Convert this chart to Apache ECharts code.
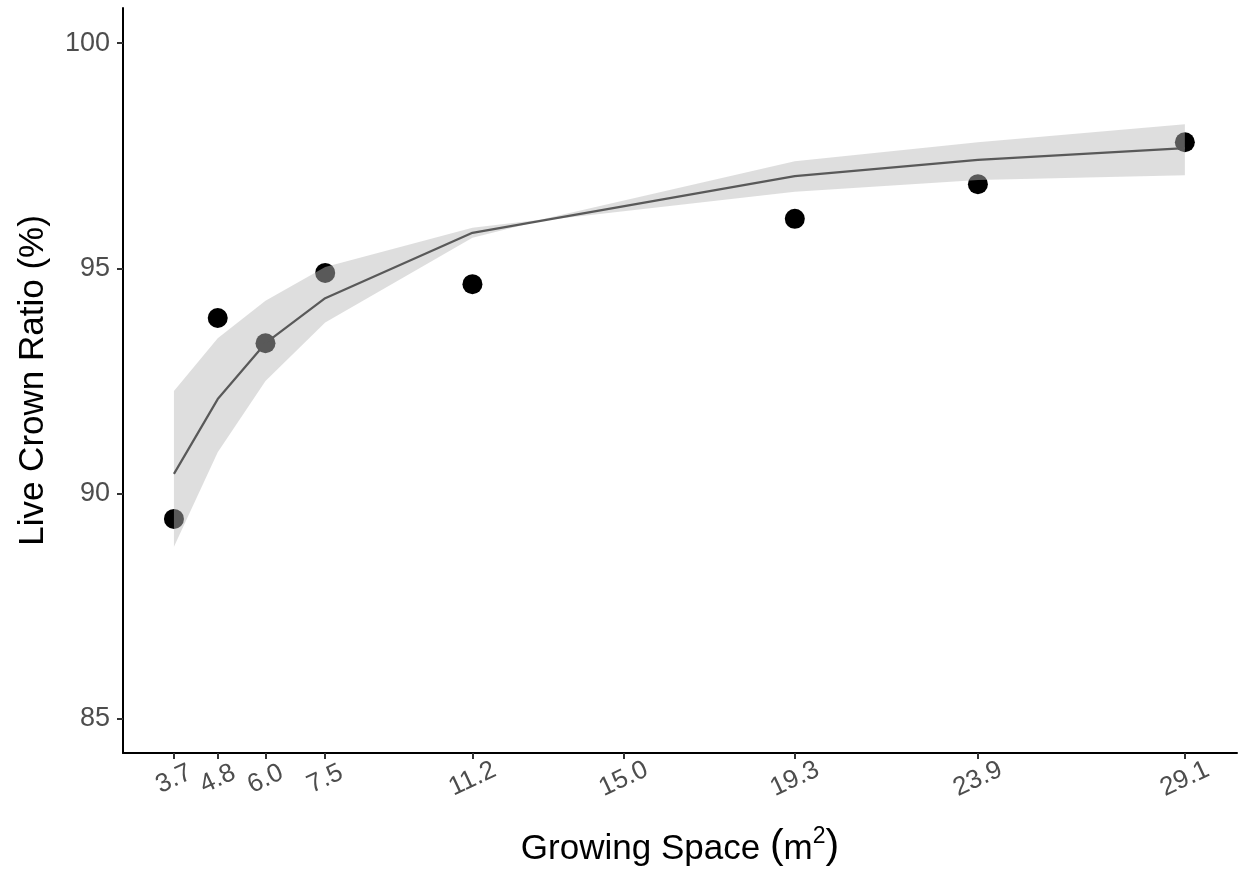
<!DOCTYPE html>
<html>
<head>
<meta charset="utf-8">
<script src="https://cdn.jsdelivr.net/npm/echarts@6/dist/echarts.min.js"></script>
<style>html,body{margin:0;padding:0;background:#fff;}#c{width:1238px;height:869px;}</style>
</head>
<body>
<div id="c"></div>
<script>
// Observed points
const xValues = [3.7, 4.8, 6.0, 7.5, 11.2, 19.3, 23.9, 29.1];
const crownRatio = [89.44, 93.90, 93.34, 94.90, 94.65, 96.10, 96.87, 97.80];
// Fitted line
const fitted = [90.44, 92.10, 93.34, 94.34, 95.79, 97.05, 97.41, 97.67];
// Confidence ribbon
const ribbonX = [3.7, 4.8, 6.0, 7.5, 11.2, 12.9, 19.3, 23.9, 29.1];
const ribbonUpper = [92.28, 93.45, 94.28, 95.03, 95.90, 96.08, 97.38, 97.80, 98.20];
const ribbonLower = [88.82, 90.92, 92.50, 93.80, 95.68, 96.06, 96.70, 96.96, 97.07];
// Tick labels
const xTicks = [3.7, 4.8, 6.0, 7.5, 11.2, 15.0, 19.3, 23.9, 29.1];
const yTicks = [85, 90, 95, 100];

const chart = echarts.init(document.getElementById('c'));
const font = "'Liberation Sans', Arial, sans-serif";

chart.setOption({
  animation: false,
  backgroundColor: '#ffffff',
  grid: { left: 123, right: 1, top: 8, bottom: 116, containLabel: false, outerBoundsMode: 'none' },
  xAxis: {
    type: 'value', min: 2.42, max: 30.41,
    name: '{t|Growing Space }{p|(}{t|m}{s|2}{p|)}',
    nameLocation: 'middle', nameGap: 72,
    nameTextStyle: {
      rich: {
        t: { fontFamily: font, fontSize: 35, color: '#000', verticalAlign: 'bottom', lineHeight: 42 },
        p: { fontFamily: font, fontSize: 41, color: '#000', verticalAlign: 'bottom', lineHeight: 42 },
        s: { fontFamily: font, fontSize: 23, color: '#000', verticalAlign: 'top', lineHeight: 42 }
      }
    },
    axisLine: { show: true, onZero: false, lineStyle: { color: '#000', width: 2 } },
    axisTick: { show: true, length: 6, customValues: xTicks, lineStyle: { color: '#333', width: 2 } },
    axisLabel: {
      customValues: xTicks, rotate: 25, margin: 26,
      align: 'center', verticalAlign: 'middle',
      fontFamily: font, fontSize: 26, color: '#4d4d4d',
      formatter: v => Number(v).toFixed(1)
    },
    splitLine: { show: false }
  },
  yAxis: {
    type: 'value', min: 84.245, max: 100.78,
    name: 'Live Crown Ratio (%)', nameLocation: 'middle', nameGap: 72,
    nameTextStyle: { fontFamily: font, fontSize: 35, color: '#000' },
    axisLine: { show: true, onZero: false, lineStyle: { color: '#000', width: 2 } },
    axisTick: { show: true, length: 6, customValues: yTicks, lineStyle: { color: '#333', width: 2 } },
    axisLabel: { customValues: yTicks, margin: 13, fontFamily: font, fontSize: 27, color: '#4d4d4d' },
    splitLine: { show: false }
  },
  series: [
    {
      type: 'scatter', z: 2,
      data: xValues.map((x, i) => [x, crownRatio[i]]),
      symbol: 'circle', symbolSize: 20,
      itemStyle: { color: '#000', opacity: 1 }
    },
    {
      type: 'custom', z: 3, silent: true,
      data: [[ribbonX[0], ribbonUpper[0]]],
      renderItem: function (params, api) {
        const pts = [];
        for (let i = 0; i < ribbonX.length; i++) pts.push(api.coord([ribbonX[i], ribbonUpper[i]]));
        for (let i = ribbonX.length - 1; i >= 0; i--) pts.push(api.coord([ribbonX[i], ribbonLower[i]]));
        return { type: 'polygon', shape: { points: pts }, style: { fill: 'rgba(186,186,186,0.48)', stroke: null } };
      }
    },
    {
      type: 'line', z: 4,
      data: xValues.map((x, i) => [x, fitted[i]]),
      showSymbol: false, symbol: 'none',
      lineStyle: { color: '#595959', width: 2.2 }
    }
  ]
});
</script>
</body>
</html>
